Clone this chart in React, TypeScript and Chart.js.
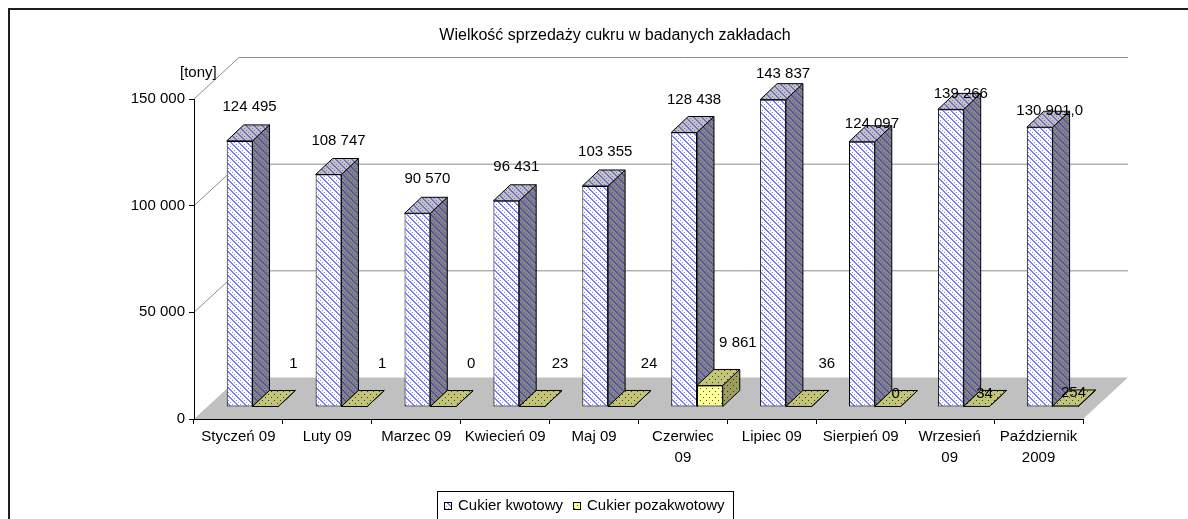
import React, { useEffect, useRef } from 'react';
import { Chart, registerables } from 'chart.js';

Chart.register(...registerables);

// ---------- data ----------
const categories: (string | string[])[] = [
  'Styczeń 09',
  'Luty 09',
  'Marzec 09',
  'Kwiecień 09',
  'Maj 09',
  ['Czerwiec', '09'],
  'Lipiec 09',
  'Sierpień 09',
  ['Wrzesień', '09'],
  ['Październik', '2009'],
];
const quotaSugar = [124495, 108747, 90570, 96431, 103355, 128438, 143837, 124097, 139266, 130901.0];
const quotaDecimals = [0, 0, 0, 0, 0, 0, 0, 0, 0, 1];
const nonQuotaSugar = [1, 1, 0, 23, 24, 9861, 36, 0, 34, 254];
const yTicks = [0, 50000, 100000, 150000];
const seriesNames = ['Cukier kwotowy', 'Cukier pozakwotowy'];
const chartTitle = 'Wielkość sprzedaży cukru w badanych zakładach';
const unitLabel = '[tony]';

// ---------- style / geometry ----------
const FONT = '"Liberation Sans", Arial, Helvetica, sans-serif';
const WALL = { dx: 45, dy: -41.5 };
const BAR = { dx: 17, dy: -16 };
const PLANE_SHIFT_CAT = 0.158;
const PLANE_SHIFT_VAL = 5859;

function fmt(v: number, dec = 0): string {
  const s = v.toFixed(dec);
  const [int, frac] = s.split('.');
  const g = int.replace(/\B(?=(\d{3})+(?!\d))/g, ' ');
  return frac ? g + ',' + frac : g;
}

function stripeTile(bg: string, fg: string): HTMLCanvasElement {
  const c = document.createElement('canvas');
  c.width = 8;
  c.height = 8;
  const g = c.getContext('2d')!;
  g.fillStyle = bg;
  g.fillRect(0, 0, 8, 8);
  g.fillStyle = fg;
  for (let y = 0; y < 8; y++) {
    for (let x = 0; x < 8; x++) {
      const k = (((x - y) % 8) + 8) % 8;
      if (k === 0 || k === 1 || (k === 4 && x % 2 === 0)) g.fillRect(x, y, 1, 1);
    }
  }
  return c;
}

function dotTile(bg: string, fg: string): HTMLCanvasElement {
  const c = document.createElement('canvas');
  c.width = 6;
  c.height = 6;
  const g = c.getContext('2d')!;
  g.fillStyle = bg;
  g.fillRect(0, 0, 6, 6);
  g.fillStyle = fg;
  g.fillRect(1, 1, 1, 1);
  g.fillRect(4, 4, 1, 1);
  return c;
}

type Skin = { front: any; side: any; top: any };

function face(ctx: CanvasRenderingContext2D, pts: number[][], fill: any) {
  ctx.beginPath();
  ctx.moveTo(pts[0][0], pts[0][1]);
  for (let i = 1; i < pts.length; i++) ctx.lineTo(pts[i][0], pts[i][1]);
  ctx.closePath();
  ctx.fillStyle = fill;
  ctx.fill();
  ctx.strokeStyle = '#000';
  ctx.lineWidth = 1;
  ctx.stroke();
}

function bar3d(ctx: CanvasRenderingContext2D, el: any, skin: Skin) {
  const p = el.getProps(['x', 'y', 'base', 'width'], true);
  const l = p.x - p.width / 2;
  const r = p.x + p.width / 2;
  const t = Math.min(p.y, p.base);
  const b = Math.max(p.y, p.base);
  if (b - t > 0.5) el.draw(ctx);
  face(ctx, [[r, b], [r + BAR.dx, b + BAR.dy], [r + BAR.dx, t + BAR.dy], [r, t]], skin.side);
  face(ctx, [[l, t], [r, t], [r + BAR.dx, t + BAR.dy], [l + BAR.dx, t + BAR.dy]], skin.top);
}

const clamp01 = (v: number) => Math.min(1, Math.max(0, v));

export default function App() {
  const ref = useRef<HTMLCanvasElement>(null);

  useEffect(() => {
    const canvas = ref.current!;
    const c2d = canvas.getContext('2d')!;
    const pat = (tile: HTMLCanvasElement) => c2d.createPattern(tile, 'repeat')!;

    const blue: Skin = {
      front: pat(stripeTile('#ffffff', '#7c7cff')),
      side: pat(stripeTile('#858585', '#5252a8')),
      top: pat(stripeTile('#c2c2c2', '#7070c8')),
    };
    const yellow: Skin = {
      front: pat(dotTile('#ffff99', '#55552a')),
      side: pat(dotTile('#9c9c5c', '#333318')),
      top: pat(dotTile('#c4c478', '#3c3c1e')),
    };
    const skins = [blue, yellow];

    const plugin = {
      id: 'excel3d',
      beforeDraw(chart: any) {
        const { ctx, chartArea: a, scales } = chart;
        const ys = scales.y;
        ctx.save();
        // floor
        ctx.fillStyle = '#c0c0c0';
        ctx.beginPath();
        ctx.moveTo(a.left, a.bottom);
        ctx.lineTo(a.right, a.bottom);
        ctx.lineTo(a.right + WALL.dx, a.bottom + WALL.dy);
        ctx.lineTo(a.left + WALL.dx, a.bottom + WALL.dy);
        ctx.closePath();
        ctx.fill();
        // side-wall and back-wall gridlines
        ctx.strokeStyle = '#8c8c8c';
        ctx.lineWidth = 1;
        for (const v of yTicks) {
          if (v <= 0) continue;
          const py = ys.getPixelForValue(v);
          ctx.beginPath();
          ctx.moveTo(a.left, py);
          ctx.lineTo(a.left + WALL.dx, py + WALL.dy);
          ctx.lineTo(a.right + WALL.dx, py + WALL.dy);
          ctx.stroke();
        }
        ctx.restore();
      },
      beforeDatasetsDraw(chart: any) {
        const ctx: CanvasRenderingContext2D = chart.ctx;
        const m0 = chart.getDatasetMeta(0);
        const m1 = chart.getDatasetMeta(1);
        ctx.save();
        for (let i = 0; i < categories.length; i++) {
          bar3d(ctx, m0.data[i], blue);
          bar3d(ctx, m1.data[i], yellow);
        }
        // value labels
        ctx.fillStyle = '#000';
        ctx.font = `15px ${FONT}`;
        ctx.textAlign = 'center';
        ctx.textBaseline = 'middle';
        for (let i = 0; i < categories.length; i++) {
          const e0 = m0.data[i].getProps(['x', 'y'], true);
          const lift0 = clamp01((7.3 - i) / 2.5);
          ctx.fillText(fmt(quotaSugar[i], quotaDecimals[i]), e0.x + 10, e0.y + BAR.dy - 18 * lift0);
          const e1 = m1.data[i].getProps(['x', 'y'], true);
          const lift1 = clamp01(7 - i);
          ctx.fillText(fmt(nonQuotaSugar[i]), e1.x + 8 + 20 * lift1, e1.y + BAR.dy + 3 - 30 * lift1);
        }
        ctx.restore();
        return false;
      },
      afterDraw(chart: any) {
        const ctx: CanvasRenderingContext2D = chart.ctx;
        const a = chart.chartArea;
        ctx.save();
        ctx.fillStyle = '#000';
        ctx.font = `15px ${FONT}`;
        ctx.textAlign = 'left';
        ctx.textBaseline = 'middle';
        ctx.fillText(unitLabel, a.left - 14, a.top - 26);

        // legend
        ctx.font = `15px ${FONT}`;
        const widths = seriesNames.map((n) => ctx.measureText(n).width);
        const box = 8;
        const gap = 6;
        const itemGap = 10;
        const total =
          widths.reduce((s, w) => s + box + gap + w, 0) + itemGap * (seriesNames.length - 1);
        const cx = 584.5;
        const top = 491;
        const cy = 506;
        let x = Math.round(cx - total / 2);
        ctx.strokeStyle = '#000';
        ctx.lineWidth = 1;
        ctx.strokeRect(x - 7 + 0.5, top + 0.5, Math.round(total) + 15, 60);
        seriesNames.forEach((n, i) => {
          ctx.fillStyle = skins[i].front;
          ctx.fillRect(x, cy - 4, box, box);
          ctx.strokeStyle = '#000';
          ctx.strokeRect(x + 0.5, cy - 4 + 0.5, box - 1, box - 1);
          ctx.fillStyle = '#000';
          ctx.fillText(n, x + box + gap, cy);
          x += box + gap + widths[i] + itemGap;
        });
        ctx.restore();
      },
    };

    Chart.defaults.font.family = FONT;
    Chart.defaults.color = '#000';

    const chart = new Chart(canvas, {
      type: 'bar',
      data: {
        labels: categories as any,
        datasets: [
          {
            label: seriesNames[0],
            data: quotaSugar.map((v, i) => ({ x: i, y: v })) as any,
            xAxisID: 'x2',
            yAxisID: 'y2',
            backgroundColor: blue.front,
            borderColor: '#000',
            borderWidth: 1,
            borderSkipped: false,
            categoryPercentage: 0.58,
            barPercentage: 1,
          },
          {
            label: seriesNames[1],
            data: nonQuotaSugar.map((v, i) => ({ x: i, y: v })) as any,
            xAxisID: 'x2',
            yAxisID: 'y2',
            backgroundColor: yellow.front,
            borderColor: '#000',
            borderWidth: 1,
            borderSkipped: false,
            categoryPercentage: 0.58,
            barPercentage: 1,
          },
        ],
      },
      options: {
        responsive: false,
        animation: false,
        events: [],
        layout: { padding: { left: 100, right: 58, top: 0, bottom: 40 } },
        scales: {
          x: {
            type: 'category',
            position: 'bottom',
            offset: true,
            grid: { offset: true, drawOnChartArea: false, color: '#000', tickLength: 5 },
            border: { color: '#000' },
            ticks: {
              color: '#000',
              font: { family: FONT, size: 15, lineHeight: 1.4 },
              padding: 2.5,
              autoSkip: false,
              maxRotation: 0,
              minRotation: 0,
            },
            afterFit: (s: any) => {
              s.height = 60;
            },
          },
          y: {
            type: 'linear',
            position: 'left',
            min: yTicks[0],
            max: yTicks[yTicks.length - 1],
            afterBuildTicks: (s: any) => {
              s.ticks = yTicks.map((v) => ({ value: v }));
            },
            ticks: {
              color: '#000',
              font: { family: FONT, size: 15 },
              padding: 4,
              callback: (v: any) => fmt(Number(v)),
            },
            grid: { drawOnChartArea: false, color: '#000', tickLength: 5 },
            border: { color: '#000' },
            afterFit: (s: any) => {
              s.width = 94;
            },
          },
          // empty right-hand spacer keeping the plot's right edge where the reference has it
          yRight: {
            type: 'linear',
            position: 'right',
            display: true,
            ticks: { display: false },
            grid: { display: false, drawTicks: false },
            border: { display: false },
            afterFit: (s: any) => {
              s.width = 47;
            },
          },
          x2: {
            type: 'linear',
            display: false,
            offset: false,
            min: -0.5 - PLANE_SHIFT_CAT,
            max: categories.length - 0.5 - PLANE_SHIFT_CAT,
          },
          y2: {
            type: 'linear',
            display: false,
            min: yTicks[0] - PLANE_SHIFT_VAL,
            max: yTicks[yTicks.length - 1] - PLANE_SHIFT_VAL,
          },
        },
        plugins: {
          legend: { display: false },
          tooltip: { enabled: false },
          title: {
            display: true,
            text: chartTitle,
            color: '#000',
            font: { family: FONT, size: 16, weight: 'normal', lineHeight: 1.2 },
            padding: { top: 26, bottom: 53.8 },
          },
        },
      } as any,
      plugins: [plugin as any],
    });

    return () => chart.destroy();
  }, []);

  return (
    <>
      <div
        style={{
          position: 'fixed',
          left: 8,
          top: 8,
          width: 1400,
          height: 800,
          border: '2px solid #1e1e1e',
          boxSizing: 'border-box',
        }}
      />
      <canvas
        ref={ref}
        width={1188}
        height={519}
        style={{ position: 'fixed', left: 0, top: 0, width: '1188px', height: '519px' }}
      />
    </>
  );
}
